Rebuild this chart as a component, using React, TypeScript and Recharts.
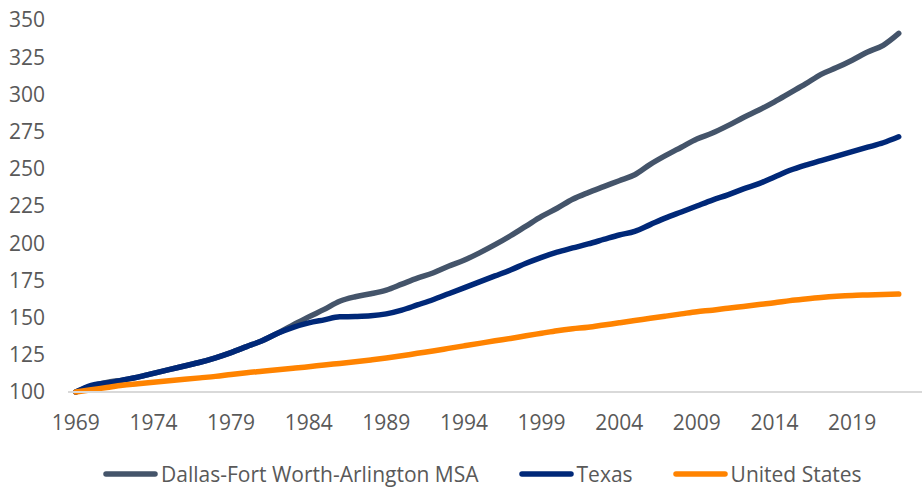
import React from "react";
import { LineChart, Line, XAxis, YAxis, Legend } from "recharts";

const years = [
  1969, 1970, 1971, 1972, 1973, 1974, 1975, 1976, 1977, 1978, 1979, 1980, 1981, 1982, 1983, 1984, 1985, 1986,
  1987, 1988, 1989, 1990, 1991, 1992, 1993, 1994, 1995, 1996, 1997, 1998, 1999, 2000, 2001, 2002, 2003, 2004,
  2005, 2006, 2007, 2008, 2009, 2010, 2011, 2012, 2013, 2014, 2015, 2016, 2017, 2018, 2019, 2020, 2021, 2022,
];

const dfw = [
  100, 104, 106.5, 108, 110, 112.5, 115, 117.5, 120, 123, 126.5, 130.5, 134.5, 139.5, 145, 150.5, 155.5, 161,
  164, 166, 168.5, 172.5, 176.5, 180, 184.5, 188.5, 193.5, 199, 205, 211.5, 218, 223.5, 229.5, 234, 238, 242,
  246, 253, 259, 264.5, 270, 274, 279, 284.5, 289.5, 295, 301, 307, 313.5, 318, 323, 328.5, 333, 341,
];

const texas = [
  100, 104.5, 106, 108, 110, 112.5, 115, 117.5, 120, 123, 126.5, 130.5, 134.5, 139.5, 143.5, 146.5, 148.5, 150.5,
  150.7, 151.2, 152.5, 155, 158.5, 162, 166, 170, 174, 178, 182, 186.5, 190.5, 194, 196.8, 199.5, 202.5, 205.5,
  208, 212.5, 217, 221, 225, 229, 232.5, 236.5, 240, 244.5, 249, 252.5, 255.5, 258.5, 261.5, 264.5, 267.5, 271.5,
];

const us = [
  100, 101.5, 103, 104.5, 105.5, 106.5, 107.5, 108.5, 109.5, 110.5, 111.8, 113, 114, 115, 116, 117, 118.2, 119.2,
  120.3, 121.5, 122.8, 124.3, 126, 127.6, 129.3, 131, 132.7, 134.4, 136, 137.8, 139.5, 141.2, 142.5, 143.5, 145, 146.5,
  148, 149.5, 151, 152.5, 154, 155, 156.3, 157.5, 158.8, 160, 161.4, 162.5, 163.5, 164.3, 164.9, 165.2, 165.5, 165.8,
];

const xTicks = [1969, 1974, 1979, 1984, 1989, 1994, 1999, 2004, 2009, 2014, 2019];
const yTicks = [100, 125, 150, 175, 200, 225, 250, 275, 300, 325, 350];

const seriesNames = ["Dallas-Fort Worth-Arlington MSA", "Texas", "United States"];
const colors = ["#44546A", "#002878", "#FF8300"];

const data = years.map((y, i) => ({ year: y, dfw: dfw[i], texas: texas[i], us: us[i] }));

const FONT = "'Open Sans', sans-serif";
const TEXT = "#595959";

const renderLegend = () => (
  <div style={{ display: "flex", alignItems: "center", paddingLeft: 103, fontFamily: FONT, fontSize: 21, color: TEXT, height: 24 }}>
    {seriesNames.map((n, i) => (
      <div key={n} style={{ display: "flex", alignItems: "center", marginRight: 40 }}>
        <svg width={55} height={10}>
          <line x1={3} y1={5} x2={52} y2={5} stroke={colors[i]} strokeWidth={5.5} strokeLinecap="round" />
        </svg>
        <span style={{ marginLeft: 3, lineHeight: "24px" }}>{n}</span>
      </div>
    ))}
  </div>
);

export default function App() {
  return (
    <div style={{ position: "absolute", left: 0, top: 0, width: 922, height: 488, background: "#fff" }}>
      <LineChart width={922} height={488} data={data} margin={{ top: 20, right: 0, left: 0, bottom: 56 }}>
        <XAxis
          dataKey="year"
          type="number"
          domain={[1968.5, 2023.5]}
          ticks={xTicks}
          allowDataOverflow
          height={40}
          axisLine={{ stroke: "#D9D9D9", strokeWidth: 2 }}
          tickLine={false}
          tickSize={0}
          tickMargin={23}
          tick={{ fill: TEXT, fontSize: 21, fontFamily: FONT }}
        />
        <YAxis
          type="number"
          domain={[100, 350]}
          ticks={yTicks}
          width={68}
          axisLine={false}
          tickLine={false}
          tickSize={0}
          tickMargin={23}
          tick={{ fill: TEXT, fontSize: 21, fontFamily: FONT }}
        />
        <Legend
          layout="horizontal"
          verticalAlign="middle"
          align="center"
          wrapperStyle={{ top: 462, left: 0, width: 922, height: 24 }}
          content={renderLegend}
        />
        <Line type="monotone" dataKey="dfw" name={seriesNames[0]} stroke={colors[0]} strokeWidth={5.5} dot={false} strokeLinecap="round" isAnimationActive={false} />
        <Line type="monotone" dataKey="texas" name={seriesNames[1]} stroke={colors[1]} strokeWidth={5.5} dot={false} strokeLinecap="round" isAnimationActive={false} />
        <Line type="monotone" dataKey="us" name={seriesNames[2]} stroke={colors[2]} strokeWidth={5.5} dot={false} strokeLinecap="round" isAnimationActive={false} />
      </LineChart>
    </div>
  );
}
